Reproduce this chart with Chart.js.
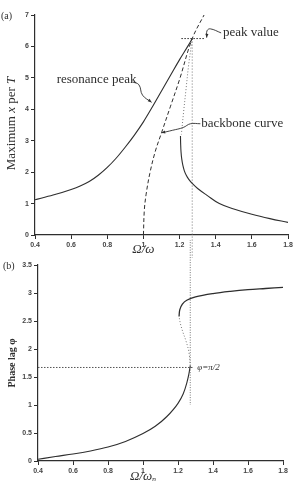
<!DOCTYPE html>
<html><head><meta charset="utf-8">
<script src="https://cdn.jsdelivr.net/npm/chart.js@4.4.1/dist/chart.umd.min.js"></script>
<style>
html,body{margin:0;padding:0;background:#fff;}
#wrap{position:relative;width:295px;height:481px;overflow:hidden;}
#c1{position:absolute;left:0;top:0;}
#c2{position:absolute;left:0;top:240px;}
</style></head><body>
<div id="wrap"><canvas id="c1" width="295" height="258"></canvas><canvas id="c2" width="295" height="241"></canvas></div>
<script>
// ---- tick labels ----
const xTicks = [0.4,0.6,0.8,1.0,1.2,1.4,1.6,1.8];
const xTickLabels = ["0.4","0.6","0.8","1","1.2","1.4","1.6","1.8"];
const ampTicks = [0,1,2,3,4,5,6,7];
const phaseTicks = [0,0.5,1,1.5,2,2.5,3,3.5];
const phaseTickLabels = ["0","0.5","1","1.5","2","2.5","3","3.5"];

// ---- (a) amplitude ----
const resX = [0.4,0.5,0.6,0.65,0.7,0.75,0.8,0.85,0.9,0.95,1.0,1.05,1.1,1.15,1.2,1.25,1.27];
const resY = [1.12,1.27,1.45,1.56,1.7,1.9,2.15,2.45,2.8,3.18,3.6,4.08,4.58,5.08,5.58,6.05,6.25];
const unstableAX = [1.27,1.25,1.235,1.222,1.21];
const unstableAY = [6.25,5.4,4.6,3.9,3.2];
const rightX = [1.205,1.206,1.208,1.212,1.218,1.226,1.237,1.25,1.27,1.3,1.35,1.42,1.5,1.6,1.7,1.8];
const rightY = [3.15,2.9,2.65,2.42,2.22,2.05,1.9,1.78,1.64,1.48,1.27,1.0,0.83,0.66,0.52,0.4];
const backX = [1.0,1.005,1.015,1.035,1.065,1.1,1.15,1.2,1.27,1.34];
const backY = [0,0.8,1.3,1.95,2.65,3.25,4.1,4.95,6.25,7.05];
const peakX = 1.27, peakY = 6.25;

// ---- (b) phase ----
const phLowX = [0.4,0.5,0.6,0.7,0.8,0.9,1.0,1.07,1.135,1.2,1.23,1.25,1.262,1.27];
const phLowY = [0.03,0.08,0.125,0.18,0.25,0.35,0.49,0.62,0.79,1.03,1.2,1.39,1.55,1.7];
const phMidX = [1.27,1.262,1.245,1.228,1.214,1.206];
const phMidY = [1.7,1.95,2.15,2.3,2.45,2.58];
const phHighX = [1.206,1.21,1.225,1.25,1.3,1.4,1.5,1.6,1.7,1.8];
const phHighY = [2.58,2.7,2.8,2.87,2.93,2.99,3.03,3.06,3.08,3.1];
const phiRef = 1.67;

const zip = (xs, ys) => xs.map((x,i)=>({x, y: ys[i]}));
const INK = '#2e2e2e', DOT = '#777';
const serif = '"Liberation Serif", "DejaVu Serif", serif';

function baseLine(data, opts){
  return Object.assign({data, showLine:true, pointRadius:0, borderColor:INK, borderWidth:1.1, tension:0.35, fill:false}, opts||{});
}

function annoPlugin(items){
  return {id:'anno', afterDatasetsDraw(chart){
    const {ctx, scales:{x, y}} = chart;
    ctx.save();
    items.forEach(it=>{
      ctx.fillStyle = INK;
      ctx.textBaseline = 'middle';
      if(it.parts){
        let total = 0;
        it.parts.forEach(p=>{ctx.font = p.f; total += ctx.measureText(p.t).width;});
        const py = it.py!==undefined ? it.py : y.getPixelForValue(it.y);
        const px = it.px!==undefined ? it.px : x.getPixelForValue(it.x);
        ctx.textAlign='left';
        if(it.rot){
          ctx.save(); ctx.translate(px, py); ctx.rotate(-Math.PI/2);
          let cx = -total/2;
          it.parts.forEach(p=>{ctx.font=p.f; ctx.fillText(p.t, cx, 0); cx += ctx.measureText(p.t).width;});
          ctx.restore();
        } else {
          let cx = it.align==='center' ? px - total/2 : px;
          it.parts.forEach(p=>{ctx.font=p.f; ctx.fillText(p.t, cx, py + (p.dy||0)); cx += ctx.measureText(p.t).width;});
        }
      }
      if(it.arrow){
        const pts = it.arrow.map(p=>[x.getPixelForValue(p[0]), y.getPixelForValue(p[1])]);
        const a = pts[pts.length-2], b = pts[pts.length-1];
        const ang = Math.atan2(b[1]-a[1], b[0]-a[0]);
        ctx.beginPath();
        ctx.moveTo(b[0], b[1]);
        ctx.lineTo(b[0]-4*Math.cos(ang-0.4), b[1]-4*Math.sin(ang-0.4));
        ctx.lineTo(b[0]-4*Math.cos(ang+0.4), b[1]-4*Math.sin(ang+0.4));
        ctx.closePath(); ctx.fill();
      }
    });
    ctx.restore();
  }};
}

const tickFont = {family:'"Liberation Sans", Arial, sans-serif', size:7, weight:'bold'};
function xScale(min,max){
  return {type:'linear', min, max, afterBuildTicks: s=>{s.ticks = xTicks.map(v=>({value:v}));},
    ticks:{font:tickFont, color:'#444', padding:2, maxRotation:0, autoSkip:false,
      callback:(v)=>{const i = xTicks.findIndex(t=>Math.abs(t-v)<1e-6); return i>=0?xTickLabels[i]:'';}},
    grid:{drawOnChartArea:false, drawTicks:true, tickLength:4, color:INK},
    border:{color:INK, width:1.2}};
}

const resLeader = [[0.94,4.87],[0.975,4.78],[0.995,4.45],[1.045,4.22]];
const backLeader = [[1.315,3.54],[1.26,3.54],[1.22,3.42],[1.16,3.33],[1.10,3.25]];
const peakLeader = [[1.43,6.43],[1.37,6.56],[1.352,6.5],[1.35,6.28]];
const toPts = a => a.map(p=>({x:p[0],y:p[1]}));

new Chart(document.getElementById('c1'), {
  type:'scatter',
  data:{datasets:[
    baseLine(zip(resX,resY), {cubicInterpolationMode:'monotone'}),
    baseLine(zip(backX,backY), {borderDash:[4,2.5], borderWidth:1}),
    baseLine(zip(unstableAX,unstableAY), {borderDash:[1,2], borderColor:DOT, borderWidth:1}),
    baseLine(zip(rightX,rightY), {tension:0.4}),
    baseLine([{x:peakX,y:peakY},{x:peakX,y:0},{x:peakX,y:-0.9}], {borderDash:[1,2], borderColor:DOT, borderWidth:1, tension:0, clip:false}),
    baseLine([{x:1.21,y:peakY},{x:1.335,y:peakY}], {borderDash:[1.5,1.5], borderColor:INK, borderWidth:1, tension:0}),
    baseLine(toPts(resLeader), {borderWidth:0.9, tension:0.4}),
    baseLine(toPts(backLeader), {borderWidth:0.9, tension:0.4}),
    baseLine(toPts(peakLeader), {borderWidth:0.9, tension:0.4}),
  ]},
  options:{responsive:false, animation:false, devicePixelRatio:1,
    layout:{padding:{top:15, right:7, left:0, bottom:0}},
    plugins:{legend:{display:false}, tooltip:{enabled:false}},
    scales:{
      x: Object.assign(xScale(0.4,1.8), {afterFit:s=>{s.height=23;}}),
      y:{type:'linear', min:0, max:7, afterFit:s=>{s.width=35;},
        afterBuildTicks: s=>{s.ticks = ampTicks.map(v=>({value:v}));},
        ticks:{font:tickFont, color:'#444', padding:2},
        grid:{drawOnChartArea:false, drawTicks:true, tickLength:4, color:INK},
        border:{color:INK, width:1.2}}
    }
  },
  plugins:[annoPlugin([
    {x:0.52, y:4.93, parts:[{t:'resonance peak', f:'13px '+serif}]},
    {x:1.32, y:3.56, parts:[{t:'backbone curve', f:'13px '+serif}]},
    {x:1.44, y:6.45, parts:[{t:'peak value', f:'13px '+serif}]},
    {arrow:resLeader}, {arrow:backLeader}, {arrow:peakLeader},
    {px:1, py:16, parts:[{t:'(a)', f:'10px '+serif}]},
    {rot:true, px:12, y:3.55, parts:[{t:'Maximum ',f:'13px '+serif},{t:'x',f:'italic 13px '+serif},{t:' per ',f:'13px '+serif},{t:'T',f:'italic 13px '+serif}]},
    {x:1.0, py:250, align:'center', parts:[{t:'Ω/ω', f:'italic 13px '+serif}]}
  ])]
});

new Chart(document.getElementById('c2'), {
  type:'scatter',
  data:{datasets:[
    baseLine(zip(phLowX,phLowY), {cubicInterpolationMode:'monotone'}),
    baseLine(zip(phMidX,phMidY), {borderDash:[1,2], borderColor:DOT, borderWidth:1}),
    baseLine(zip(phHighX,phHighY), {borderWidth:1.3}),
    baseLine([{x:0.4,y:phiRef},{x:1.285,y:phiRef}], {borderDash:[1.5,1.5], borderColor:'#555', borderWidth:1, tension:0}),
    baseLine([{x:peakX,y:4.4},{x:peakX,y:1.0}], {borderDash:[1,1.5], borderColor:DOT, borderWidth:1, tension:0, clip:false}),
  ]},
  options:{responsive:false, animation:false, devicePixelRatio:1,
    layout:{padding:{top:25, right:12, left:0, bottom:0}},
    plugins:{legend:{display:false}, tooltip:{enabled:false}},
    scales:{
      x: Object.assign(xScale(0.4,1.8), {afterFit:s=>{s.height=20;}}),
      y:{type:'linear', min:0, max:3.5, afterFit:s=>{s.width=38;},
        afterBuildTicks: s=>{s.ticks = phaseTicks.map(v=>({value:v}));},
        ticks:{font:tickFont, color:'#444', padding:2,
          callback:(v)=>{const i = phaseTicks.findIndex(t=>Math.abs(t-v)<1e-6); return i>=0?phaseTickLabels[i]:'';}},
        grid:{drawOnChartArea:false, drawTicks:true, tickLength:4, color:INK},
        border:{color:INK, width:1.2}}
    }
  },
  plugins:[annoPlugin([
    {x:1.31, y:phiRef, parts:[{t:'φ=π/2', f:'italic 9px '+serif}]},
    {px:3, py:26, parts:[{t:'(b)', f:'10px '+serif}]},
    {rot:true, px:12, y:1.75, parts:[{t:'Phase lag φ', f:'bold 10px '+serif}]},
    {x:1.0, py:237, align:'center', parts:[{t:'Ω/ω', f:'italic 13px '+serif},{t:'n', f:'italic 8px '+serif, dy:3}]}
  ])]
});
</script></body></html>
